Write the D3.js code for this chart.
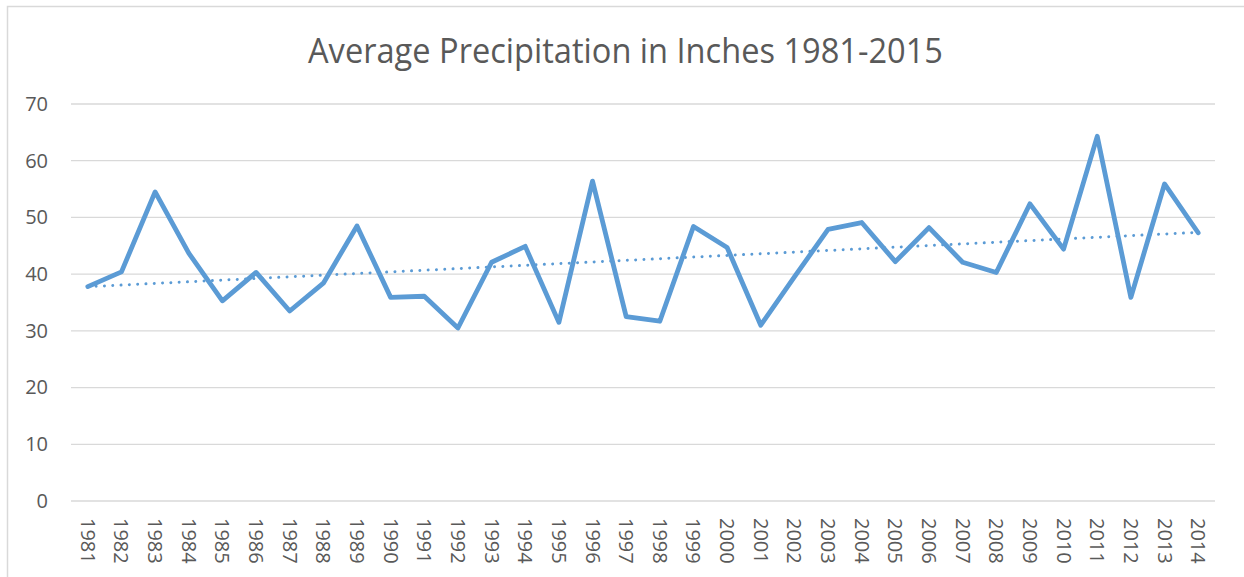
<!DOCTYPE html>
<html>
<head>
<meta charset="utf-8">
<script src="https://cdn.jsdelivr.net/npm/d3@7"></script>
<style>
  html, body { margin: 0; padding: 0; background: #ffffff; }
  svg { display: block; }
</style>
</head>
<body>
<div id="chart"></div>
<script>
const colors = {
  line: "#5B9BD5",
  grid: "#D9D9D9",
  text: "#595959",
  border: "#D9D9D9"
};

// data
const years = [1981, 1982, 1983, 1984, 1985, 1986, 1987, 1988, 1989, 1990,
  1991, 1992, 1993, 1994, 1995, 1996, 1997, 1998, 1999, 2000,
  2001, 2002, 2003, 2004, 2005, 2006, 2007, 2008, 2009, 2010,
  2011, 2012, 2013, 2014];
const precipitation = [37.8, 40.4, 54.5, 43.7, 35.3, 40.3, 33.5, 38.4, 48.5, 35.9,
  36.1, 30.5, 42.1, 44.9, 31.5, 56.4, 32.5, 31.7, 48.4, 44.7,
  31.0, 39.5, 47.9, 49.1, 42.2, 48.2, 42.1, 40.3, 52.4, 44.4,
  64.3, 35.9, 55.9, 47.3];
const yTicks = [0, 10, 20, 30, 40, 50, 60, 70];
const title = "Average Precipitation in Inches 1981-2015";

// dimensions
const W = 1244, H = 577;
const plot = { left: 71, right: 1215, top: 104, bottom: 501 };

const svg = d3.select("#chart")
  .append("svg")
  .attr("width", W)
  .attr("height", H);

// chart border (runs off the right / bottom of the picture)
svg.append("rect")
  .attr("x", 7.5)
  .attr("y", 6.5)
  .attr("width", W + 20)
  .attr("height", H + 20)
  .attr("fill", "none")
  .attr("stroke", colors.border)
  .attr("stroke-width", 1.5);

// scales
const x = d3.scaleBand()
  .domain(years)
  .range([plot.left, plot.right]);

const y = d3.scaleLinear()
  .domain([0, 70])
  .range([plot.bottom, plot.top]);

const cx = d => x(d) + x.bandwidth() / 2;

// gridlines
svg.append("g")
  .selectAll("line")
  .data(yTicks)
  .enter()
  .append("line")
  .attr("x1", plot.left)
  .attr("x2", plot.right)
  .attr("y1", d => y(d))
  .attr("y2", d => y(d))
  .attr("stroke", colors.grid)
  .attr("stroke-width", 1.3);

// y axis labels
const yAxis = svg.append("g")
  .attr("transform", "translate(48,0)")
  .call(d3.axisLeft(y).tickValues(yTicks).tickSize(0).tickPadding(0));
yAxis.select(".domain").remove();
yAxis.selectAll("text")
  .attr("fill", colors.text)
  .style("font-family", "'Open Sans', sans-serif")
  .style("font-size", "20px");

// x axis labels, rotated
const xAxis = svg.append("g")
  .attr("transform", `translate(0,${plot.bottom})`)
  .call(d3.axisBottom(x).tickSize(0).tickPadding(0));
xAxis.select(".domain").remove();
xAxis.selectAll("text")
  .attr("fill", colors.text)
  .attr("transform", "translate(0,17) rotate(90)")
  .attr("x", 0)
  .attr("y", 0)
  .attr("dy", "0.35em")
  .attr("text-anchor", "start")
  .style("font-family", "'Open Sans', sans-serif")
  .style("font-size", "20px");

// linear trendline (least squares on the series)
const xs = d3.range(years.length);
const mx = d3.mean(xs), my = d3.mean(precipitation);
const slope = d3.sum(xs, i => (i - mx) * (precipitation[i] - my)) / d3.sum(xs, i => (i - mx) * (i - mx));
const intercept = my - slope * mx;
const trend = [0, years.length - 1].map(i => ({ year: years[i], v: intercept + slope * i }));

svg.append("path")
  .datum(trend)
  .attr("fill", "none")
  .attr("stroke", colors.line)
  .attr("stroke-width", 3)
  .attr("stroke-linecap", "round")
  .attr("stroke-dasharray", "0.01 8.3")
  .attr("d", d3.line().x(d => cx(d.year)).y(d => y(d.v)));

// main line
svg.append("path")
  .datum(years.map((yr, i) => ({ year: yr, v: precipitation[i] })))
  .attr("fill", "none")
  .attr("stroke", colors.line)
  .attr("stroke-width", 4.8)
  .attr("stroke-linejoin", "round")
  .attr("stroke-linecap", "round")
  .attr("d", d3.line().x(d => cx(d.year)).y(d => y(d.v)));

// title
svg.append("text")
  .attr("x", 625.5)
  .attr("y", 63)
  .attr("text-anchor", "middle")
  .attr("fill", colors.text)
  .attr("textLength", 635)
  .attr("lengthAdjust", "spacingAndGlyphs")
  .style("font-family", "'Open Sans', sans-serif")
  .style("font-size", "34px")
  .text(title);
</script>
</body>
</html>
